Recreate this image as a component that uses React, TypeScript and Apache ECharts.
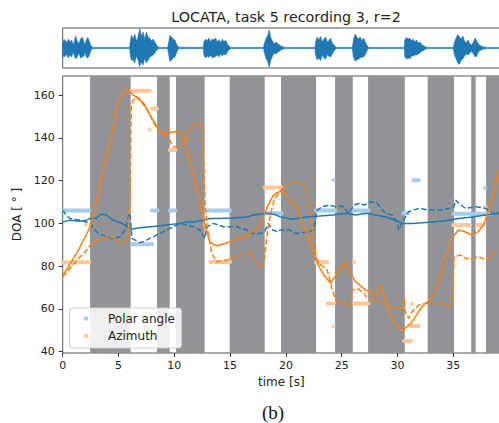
import React, { useEffect, useRef } from "react";
import * as echarts from "echarts";

// silence regions (gray bands), seconds
const silenceBands: [number, number][] = [
  [2.45, 6.09], [8.45, 9.59], [10.15, 12.72], [14.96, 18.1], [19.56, 22.7],
  [24.4, 25.99], [27.36, 30.65], [32.7, 35.06], [36.6, 37.0], [37.93, 39.3],
];

// ground truth segments: [start s, end s, degrees]
const polarTruth: [number, number, number][] = [
  [0.1, 2.4, 106], [6.2, 8.0, 90.3], [8.0, 8.5, 106], [9.6, 10.1, 106],
  [13.0, 15.0, 106], [18.2, 19.6, 104.7], [22.7, 24.4, 106], [26.0, 27.4, 106],
  [30.5, 30.9, 104.7], [31.4, 31.9, 120.2], [35.0, 37.4, 104.5], [37.6, 38.5, 104.5],
];
const polarTruthDots: [number, number][] = [[24.25, 120.2], [37.85, 116.6]];

const azimuthTruth: [number, number, number][] = [
  [0.0, 2.4, 81.8], [6.2, 7.8, 162], [8.0, 8.45, 153.7], [9.6, 10.1, 134.3],
  [13.2, 15.0, 82], [18.1, 19.6, 116.8], [22.7, 23.7, 81.8], [23.7, 24.3, 62.5],
  [26.1, 27.4, 62.5], [30.6, 31.2, 45], [31.1, 31.9, 52], [35.0, 36.5, 99.2],
  [37.1, 37.7, 99.2],
];
const azimuthTruthDots: [number, number][] = [
  [2.1, 99.5], [7.8, 143.9], [12.75, 99.5], [24.25, 52], [26.1, 81.8], [31.3, 62.5], [37.85, 107.8],
];

// estimates [time s, degrees]
const polarEst: [number, number][] = [
  [0, 100.7], [0.65, 101.5], [1.5, 101], [2.15, 101.5], [2.45, 102.3], [3.05, 102.5], [3.4, 104.3],
  [3.9, 104], [4.5, 101.5], [5.1, 100.5], [5.7, 99], [6.1, 97.3], [6.9, 98], [8.1, 98.5],
  [9.3, 99.2], [10.5, 100], [11.1, 100.7], [11.7, 100.7], [12.6, 101.5], [13.2, 102.3],
  [13.8, 102.3], [15.3, 102.5], [16.5, 103], [17.1, 103.9], [18.3, 104.7], [19.0, 104.2],
  [19.5, 103], [20.6, 101.9], [21.8, 103], [23.0, 103.4], [24.2, 103.9], [25.4, 104.7],
  [26.25, 103.9], [27.15, 104.7], [28.05, 103.9], [28.95, 103], [29.84, 101.5], [30.4, 100],
  [31.3, 100], [32.2, 100.3], [33.1, 100.7], [34.3, 101.2], [35.5, 102.3], [36.7, 103],
  [37.9, 103.9], [39.2, 104.7],
];
const polarEst2: [number, number][] = [
  [0, 106.2], [0.3, 104], [0.65, 102.3], [1.55, 101.5], [2.45, 100], [2.74, 97.7], [3.2, 95.3],
  [3.94, 93.7], [4.53, 93], [5.13, 93.7], [5.58, 96.9], [5.88, 103], [6.03, 104.7], [6.2, 93],
  [6.9, 91], [7.2, 91.4], [8.1, 93.7], [9.0, 96], [9.9, 98.4], [10.5, 100], [11.1, 99.2],
  [11.7, 98.4], [12.3, 96.9], [12.75, 93], [12.9, 98.4], [13.5, 100], [14.4, 98.4], [15.6, 98.4],
  [16.5, 96.9], [16.9, 95.3], [17.7, 95.3], [18.1, 96.1], [18.4, 100], [18.8, 97], [19.2, 96.1],
  [19.5, 96.9], [20.3, 96.9], [20.9, 95.3], [22.07, 96.1], [22.5, 96.9], [22.8, 106.2],
  [23.26, 107.8], [23.86, 108.6], [24.46, 107.8], [25.05, 108.1], [25.65, 104.7], [26.1, 108.6],
  [26.55, 109.3], [27.0, 108.6], [27.6, 110.1], [28.2, 109.3], [28.64, 106.2], [28.95, 104.7],
  [29.5, 103.9], [30.0, 100], [30.1, 96.9], [30.4, 100], [30.7, 103], [31.0, 105.4], [31.9, 107],
  [32.8, 106.2], [33.7, 106.2], [34.6, 107], [35.06, 107.8], [35.2, 110.9], [35.5, 109.3],
  [36.1, 107], [37.0, 107.8], [37.9, 107], [38.5, 104.7], [39.2, 105.4],
];
const azimuthEst: [number, number][] = [
  [0, 75.8], [0.5, 79.5], [0.95, 83.5], [1.4, 87.5], [1.85, 92], [2.2, 95.5], [2.45, 98.5],
  [2.75, 104], [3.05, 111], [3.5, 122.6], [4.0, 133], [4.24, 138], [4.55, 146], [4.84, 154.5],
  [5.2, 159.5], [5.58, 162.8], [5.8, 162.5], [6.18, 160.7], [6.93, 157.6], [7.4, 154.5],
  [7.82, 150.6], [8.3, 146.5], [8.72, 142.8], [9.3, 142], [10.06, 143], [10.5, 142.8],
  [10.8, 141.3], [11.25, 131.9], [11.85, 119.4], [12.3, 109.5], [12.8, 98], [13.2, 91],
  [13.8, 89.5], [14.5, 90.5], [15.5, 92.5], [16.5, 94], [16.9, 96], [17.4, 97], [17.7, 99.5],
  [18.05, 104], [18.4, 108.5], [18.85, 113], [19.2, 114.3], [19.6, 115], [20.0, 113.5],
  [20.4, 110.5], [21.0, 107.5], [21.3, 103], [21.6, 98], [22.1, 92.2], [22.6, 85], [22.97, 79.7],
  [23.5, 75], [24.0, 72], [24.6, 76.6], [25.2, 82], [25.8, 76.6], [26.25, 72.7], [27.15, 68.8],
  [28.05, 66.5], [28.5, 71.2], [28.95, 63.4], [29.7, 53.3], [30.4, 49.8], [31.2, 53.3],
  [32.2, 61], [32.9, 64.5], [33.4, 68.8], [33.8, 75], [34.3, 82.8], [34.77, 92.2], [35.45, 96.9],
  [36.05, 96.1], [36.65, 94.5], [37.2, 96], [37.7, 99.2], [38.3, 108], [38.7, 117], [39.2, 127],
];
const azimuthEst2: [number, number][] = [
  [0, 75], [0.5, 78], [1.0, 81], [1.5, 84], [2.0, 86.5], [2.74, 91.4], [3.64, 93], [4.53, 93.7],
  [4.98, 91.4], [5.43, 90.7], [5.88, 93.7], [6.03, 110], [6.1, 140], [6.15, 155.3], [6.33, 157.6],
  [6.63, 159.2], [7.08, 157.6], [7.53, 153.7], [7.97, 149], [8.42, 144.4], [9.0, 142],
  [9.6, 138.8], [9.9, 135.8], [10.36, 135.8], [10.96, 138.1], [11.56, 145.9], [12.0, 147.5],
  [12.45, 145.9], [12.6, 130], [12.75, 110], [12.9, 100], [13.35, 86], [13.8, 82], [14.7, 82.9],
  [15.9, 85.2], [16.8, 86], [17.4, 82], [17.7, 79], [18.0, 80.5], [18.3, 94], [18.6, 104],
  [19.0, 111.7], [19.77, 117], [20.66, 119.4], [21.4, 118.7], [21.7, 118], [22.0, 109],
  [22.3, 101], [22.5, 92.2], [22.7, 84.4], [22.97, 81.3], [23.7, 78.2], [23.86, 75],
  [24.16, 68.8], [24.46, 64.2], [25.36, 62.6], [25.8, 61], [25.95, 68.8], [26.4, 69.6],
  [27.0, 67.3], [27.3, 65], [28.35, 63.4], [29.5, 61], [30.4, 60.3], [30.6, 65], [30.7, 58.7],
  [31.0, 55.6], [31.3, 58.7], [31.9, 61.8], [32.5, 62.6], [33.7, 62.6], [34.6, 61.8],
  [34.9, 63.4], [35.06, 84.4], [35.66, 85.2], [36.1, 83.6], [36.7, 83.6], [37.3, 84.4],
  [37.9, 82.8], [38.5, 86], [39.2, 86.7],
];

// audio envelope: [time s, upper amplitude, lower amplitude]
const waveform: [number, number, number][] = [
  [0.0, 0.45, 0.5], [0.1, 0.3, 0.35], [0.2, 0.42, 0.45], [0.35, 0.25, 0.3], [0.5, 0.45, 0.5],
  [0.65, 0.3, 0.35], [0.8, 0.4, 0.45], [0.95, 0.15, 0.2], [1.05, 0.35, 0.4], [1.15, 0.6, 0.55],
  [1.3, 0.35, 0.45], [1.45, 0.2, 0.25], [1.6, 0.45, 0.5], [1.75, 0.55, 0.45], [1.9, 0.3, 0.4],
  [2.0, 0.15, 0.2], [2.1, 0.4, 0.45], [2.25, 0.53, 0.5], [2.4, 0.3, 0.35], [2.55, 0.1, 0.1],
  [2.7, 0.03, 0.03], [6.0, 0.03, 0.03],
  [6.05, 0.3, 0.35], [6.15, 0.65, 0.6], [6.3, 0.45, 0.6], [6.45, 0.7, 0.75], [6.6, 0.35, 0.4],
  [6.75, 0.55, 0.6], [6.9, 0.97, 0.92], [7.05, 0.6, 0.7], [7.2, 0.8, 0.85], [7.35, 0.45, 0.5],
  [7.5, 0.8, 0.75], [7.65, 0.55, 0.6], [7.8, 0.5, 0.45], [7.95, 0.35, 0.4], [8.1, 0.45, 0.35],
  [8.25, 0.3, 0.25], [8.4, 0.15, 0.12], [8.6, 0.03, 0.03], [9.4, 0.03, 0.03],
  [9.5, 0.3, 0.35], [9.6, 0.63, 0.67], [9.75, 0.55, 0.6], [9.9, 0.45, 0.5], [10.05, 0.4, 0.45],
  [10.2, 0.2, 0.25], [10.35, 0.04, 0.04], [12.6, 0.03, 0.03],
  [12.65, 0.3, 0.35], [12.8, 0.45, 0.5], [12.95, 0.35, 0.4], [13.1, 0.5, 0.48], [13.25, 0.3, 0.35],
  [13.4, 0.45, 0.5], [13.55, 0.4, 0.45], [13.7, 0.5, 0.42], [13.85, 0.3, 0.35], [14.0, 0.42, 0.45],
  [14.15, 0.25, 0.3], [14.3, 0.45, 0.4], [14.45, 0.3, 0.3], [14.6, 0.4, 0.35], [14.75, 0.2, 0.2],
  [14.9, 0.1, 0.1], [15.05, 0.03, 0.03], [18.0, 0.03, 0.03],
  [18.05, 0.2, 0.2], [18.2, 0.45, 0.5], [18.35, 0.6, 0.65], [18.5, 0.9, 0.95], [18.65, 0.5, 0.6],
  [18.8, 0.35, 0.4], [18.95, 0.2, 0.25], [19.1, 0.3, 0.3], [19.3, 0.2, 0.2], [19.5, 0.12, 0.12],
  [19.7, 0.06, 0.06], [19.9, 0.03, 0.03], [22.6, 0.03, 0.03],
  [22.65, 0.3, 0.35], [22.8, 0.55, 0.6], [22.95, 0.4, 0.5], [23.1, 0.58, 0.63], [23.25, 0.3, 0.35],
  [23.4, 0.45, 0.5], [23.55, 0.55, 0.55], [23.7, 0.3, 0.35], [23.85, 0.35, 0.4], [24.0, 0.5, 0.45],
  [24.15, 0.25, 0.3], [24.3, 0.15, 0.15], [24.5, 0.03, 0.03], [25.95, 0.03, 0.03],
  [26.05, 0.4, 0.45], [26.2, 0.7, 0.65], [26.35, 0.55, 0.6], [26.5, 0.45, 0.55], [26.65, 0.55, 0.5],
  [26.8, 0.35, 0.45], [26.95, 0.5, 0.45], [27.1, 0.3, 0.35], [27.25, 0.15, 0.15], [27.4, 0.03, 0.03],
  [30.6, 0.03, 0.03],
  [30.65, 0.4, 0.45], [30.8, 0.53, 0.55], [30.95, 0.45, 0.5], [31.1, 0.5, 0.55], [31.25, 0.35, 0.4],
  [31.4, 0.45, 0.4], [31.55, 0.3, 0.35], [31.7, 0.4, 0.35], [31.85, 0.25, 0.3], [32.0, 0.3, 0.25],
  [32.2, 0.15, 0.15], [32.4, 0.1, 0.1], [32.6, 0.03, 0.03], [35.0, 0.03, 0.03],
  [35.1, 0.3, 0.35], [35.25, 0.5, 0.55], [35.4, 0.67, 0.75], [35.55, 0.55, 0.83], [35.7, 0.45, 0.6],
  [35.85, 0.6, 0.55], [36.0, 0.35, 0.4], [36.15, 0.25, 0.3], [36.3, 0.4, 0.35], [36.5, 0.2, 0.25],
  [36.65, 0.15, 0.15], [36.8, 0.3, 0.3], [36.95, 0.5, 0.45], [37.1, 0.35, 0.4], [37.25, 0.2, 0.2],
  [37.4, 0.12, 0.12], [37.6, 0.08, 0.08], [37.8, 0.05, 0.05], [38.0, 0.03, 0.03], [39.3, 0.03, 0.03],
];

const xTicks = [0, 5, 10, 15, 20, 25, 30, 35];
const yTicks = [40, 60, 80, 100, 120, 140, 160];

const BLUE = "#1f77b4";
const ORANGE = "#ff7f0e";
const LIGHT_BLUE = "#a3cdea";
const LIGHT_ORANGE = "#ffc899";
const GRAY = "#929397";
const FONT = "DejaVu Sans";

function segments(list: [number, number, number][]) {
  const out: any[] = [];
  list.forEach(([a, b, v]) => {
    out.push([a, v]);
    out.push([b, v]);
    out.push([b, "-"]);
  });
  return out;
}

export default function App() {
  const ref = useRef<HTMLDivElement>(null);

  useEffect(() => {
    if (!ref.current) return;
    const chart = echarts.init(ref.current, null, { renderer: "svg" });
    const L = 62.7;
    const W = 437.3;
    const XMAX = 39.18;
    const option: any = {
      animation: false,
      textStyle: { fontFamily: FONT },
      title: {
        text: "LOCATA, task 5 recording 3, r=2",
        left: 281,
        textAlign: "center",
        top: 5,
        textStyle: { fontFamily: FONT, fontSize: 14.3, fontWeight: "normal", color: "#222" },
      },
      grid: [
        { left: L, top: 28, width: W, height: 40, show: true, borderColor: "#555", borderWidth: 1, backgroundColor: "#fff" },
        { left: L, top: 76, width: W, height: 277, show: true, borderColor: "#555", borderWidth: 1, backgroundColor: "#fff" },
      ],
      xAxis: [
        { type: "value", gridIndex: 0, min: 0, max: XMAX, show: false },
        {
          type: "value", gridIndex: 1, min: 0, max: XMAX,
          axisLine: { show: false },
          splitLine: { show: false },
          axisTick: { show: true, length: 4, lineStyle: { color: "#333" }, customValues: xTicks },
          axisLabel: { customValues: xTicks, color: "#222", fontSize: 11, margin: 7 },
          name: "time [s]", nameLocation: "middle", nameGap: 23,
          nameTextStyle: { fontSize: 12, color: "#222" },
        },
      ],
      yAxis: [
        { type: "value", gridIndex: 0, min: -1, max: 1, show: false },
        {
          type: "value", gridIndex: 1, min: 39.4, max: 168.9,
          axisLine: { show: false },
          splitLine: { show: false },
          axisTick: { show: true, length: 4, lineStyle: { color: "#333" }, customValues: yTicks },
          axisLabel: { customValues: yTicks, color: "#222", fontSize: 11, margin: 8 },
          name: "DOA [ ° ]", nameLocation: "middle", nameGap: 36, nameRotate: 90,
          nameTextStyle: { fontSize: 12, color: "#222" },
        },
      ],
      series: [
        {
          type: "line", xAxisIndex: 0, yAxisIndex: 0, showSymbol: false, z: 2,
          data: waveform.map(([t, u]) => [t, u]),
          lineStyle: { color: BLUE, width: 0.6 },
          areaStyle: { color: BLUE, opacity: 1 },
        },
        {
          type: "line", xAxisIndex: 0, yAxisIndex: 0, showSymbol: false, z: 2,
          data: waveform.map(([t, , d]) => [t, -d]),
          lineStyle: { color: BLUE, width: 0.6 },
          areaStyle: { color: BLUE, opacity: 1 },
        },
        {
          type: "line", xAxisIndex: 1, yAxisIndex: 1, data: [], z: 1, silent: true,
          markArea: {
            silent: true,
            itemStyle: { color: GRAY, opacity: 1 },
            data: silenceBands.map(([a, b]) => [{ xAxis: a }, { xAxis: b }]),
          },
        },
        {
          name: "Polar angle", type: "line", xAxisIndex: 1, yAxisIndex: 1, showSymbol: false,
          connectNulls: false, data: segments(polarTruth), z: 3,
          lineStyle: { color: LIGHT_BLUE, width: 4, cap: "round" },
        },
        {
          name: "Polar angle", type: "scatter", xAxisIndex: 1, yAxisIndex: 1, symbolSize: 4.5,
          data: polarTruthDots, itemStyle: { color: LIGHT_BLUE }, z: 3,
        },
        {
          name: "Azimuth", type: "line", xAxisIndex: 1, yAxisIndex: 1, showSymbol: false,
          connectNulls: false, data: segments(azimuthTruth), z: 3,
          lineStyle: { color: LIGHT_ORANGE, width: 4, cap: "round" },
        },
        {
          name: "Azimuth", type: "scatter", xAxisIndex: 1, yAxisIndex: 1, symbolSize: 4.5,
          data: azimuthTruthDots, itemStyle: { color: LIGHT_ORANGE }, z: 3,
        },
        {
          type: "line", xAxisIndex: 1, yAxisIndex: 1, showSymbol: false, data: polarEst, z: 4,
          lineStyle: { color: BLUE, width: 1.5 },
        },
        {
          type: "line", xAxisIndex: 1, yAxisIndex: 1, showSymbol: false, data: polarEst2, z: 4,
          lineStyle: { color: BLUE, width: 1.5, type: [5.5, 2.4] },
        },
        {
          type: "line", xAxisIndex: 1, yAxisIndex: 1, showSymbol: false, data: azimuthEst, z: 4,
          lineStyle: { color: ORANGE, width: 1.5 },
        },
        {
          type: "line", xAxisIndex: 1, yAxisIndex: 1, showSymbol: false, data: azimuthEst2, z: 4,
          lineStyle: { color: ORANGE, width: 1.5, type: [5.5, 2.4] },
        },
      ],
      graphic: [
        {
          type: "rect", left: 69, top: 307.5, z: 100,
          shape: { width: 112, height: 40, r: 3 },
          style: { fill: "rgba(255,255,255,0.85)", stroke: "#cccccc", lineWidth: 1 },
        },
        { type: "circle", x: 86, y: 318.5, z: 101, shape: { r: 2.3 }, style: { fill: LIGHT_BLUE } },
        { type: "circle", x: 86, y: 336, z: 101, shape: { r: 2.3 }, style: { fill: LIGHT_ORANGE } },
        {
          type: "text", x: 108, y: 318.5, z: 101,
          style: { text: "Polar angle", fontFamily: FONT, fontSize: 12, fill: "#222", verticalAlign: "middle" },
        },
        {
          type: "text", x: 108, y: 336, z: 101,
          style: { text: "Azimuth", fontFamily: FONT, fontSize: 12, fill: "#222", verticalAlign: "middle" },
        },
        {
          type: "text", x: 273, y: 412, z: 101,
          style: {
            text: "(b)", fontFamily: "Liberation Serif", fontSize: 19, fill: "#111",
            align: "center", verticalAlign: "middle",
          },
        },
      ],
    };
    chart.setOption(option);
    return () => chart.dispose();
  }, []);

  return (
    <div style={{ position: "fixed", left: 0, top: 0, width: 499, height: 423, overflow: "hidden", background: "#fff" }}>
      <div ref={ref} style={{ width: 505, height: 423 }} />
    </div>
  );
}
